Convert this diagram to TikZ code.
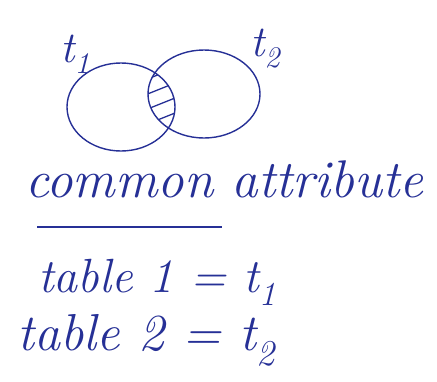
\documentclass[tikz,border=0pt]{standalone}
\usetikzlibrary{shapes.geometric}
\definecolor{ink}{RGB}{38,48,150}
\tikzset{
  ringshape/.style={draw=ink, line width=1.4pt, ellipse, inner sep=0pt},
  handtext/.style={text=ink, inner sep=0pt, anchor=base west},
  hatchline/.style={draw=ink, line width=1.3pt, line cap=round}
}
\begin{document}
\begin{tikzpicture}[x=1pt,y=-1pt]
\useasboundingbox (0,0) rectangle (437,381);
% circles
\node[ringshape, minimum width=108pt, minimum height=88pt] (c1) at (121,107) {};
\node[ringshape, minimum width=112pt, minimum height=88pt] (c2) at (204,94) {};
% hatching in intersection
\begin{scope}
  \clip (121,107) ellipse [x radius=54, y radius=44];
  \clip (204,94) ellipse [x radius=56, y radius=44];
  \foreach \yy in {80,95,110,125,140} {
    \draw[hatchline] (145,\yy) -- (185,\yy-16);
  }
\end{scope}
% labels
\node[handtext, font=\itshape\fontsize{44}{48}\selectfont] (l1) at (60,62) {t\textsubscript{\fontsize{30}{32}\selectfont 1}};
\node[handtext, font=\itshape\fontsize{44}{48}\selectfont] (l2) at (250,56) {t\textsubscript{\fontsize{30}{32}\selectfont 2}};
% text
\node[handtext, font=\itshape\fontsize{53}{56}\selectfont] (ca) at (25,197) {common attribute};
\draw[ink, line width=1.3pt] (37,227) -- (222,227);
\node[handtext, font=\itshape\fontsize{48}{52}\selectfont] (e1) at (38,292) {table 1 = t\textsubscript{1}};
\node[handtext, font=\itshape\fontsize{52}{56}\selectfont] (e2) at (17,350) {table 2 = t\textsubscript{2}};
\end{tikzpicture}
\end{document}
